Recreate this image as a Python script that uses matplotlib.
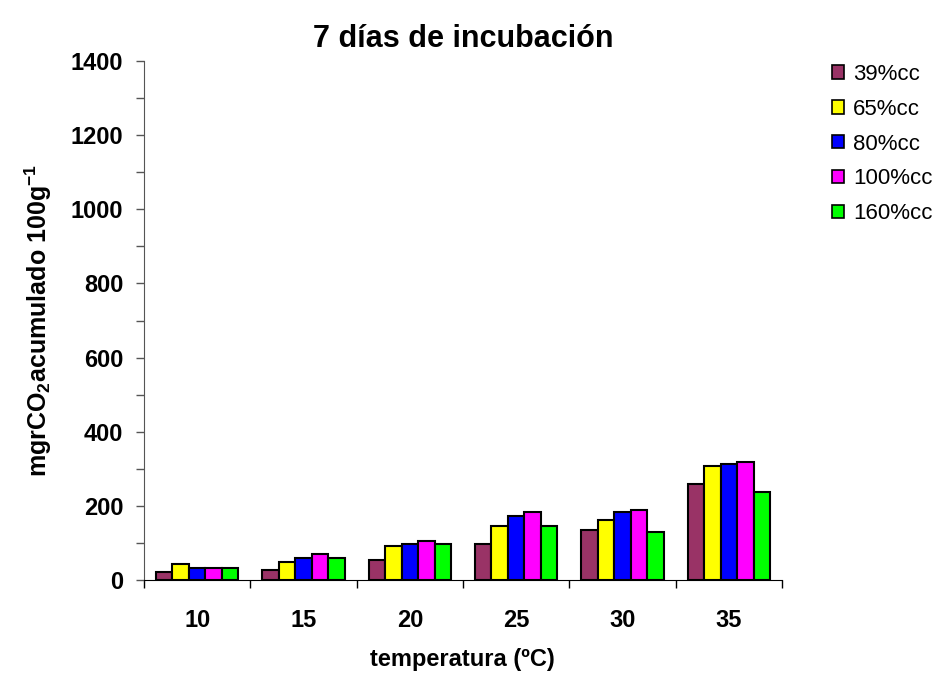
import numpy as np
import matplotlib.pyplot as plt
from matplotlib.patches import Patch

plt.rcParams['font.family'] = ['Liberation Sans', 'DejaVu Sans']
plt.rcParams['mathtext.fontset'] = 'custom'
plt.rcParams['mathtext.rm'] = 'Liberation Sans'
plt.rcParams['mathtext.bf'] = 'Liberation Sans:bold'
plt.rcParams['mathtext.default'] = 'bf'

temperaturas = ['10', '15', '20', '25', '30', '35']
humedades = ['39%cc', '65%cc', '80%cc', '100%cc', '160%cc']
colores = ['#993366', '#FFFF00', '#0000FF', '#FF00FF', '#00FF00']

# mg CO2 acumulado a los 7 dias, una lista por humedad
co2_39 = [22, 28, 54, 97, 135, 258]
co2_65 = [43, 48, 92, 146, 162, 308]
co2_80 = [32, 58, 97, 172, 183, 313]
co2_100 = [32, 70, 106, 183, 188, 318]
co2_160 = [33, 58, 96, 146, 129, 237]
series = [co2_39, co2_65, co2_80, co2_100, co2_160]

fig = plt.figure(figsize=(9.35, 6.74), dpi=100)
ax = fig.add_axes([144 / 935, 94 / 674, 638 / 935, 519 / 674])

x = np.arange(len(temperaturas))
ancho = 0.155
for i, (vals, col) in enumerate(zip(series, colores)):
    ax.bar(x + (i - 2) * ancho, vals, width=ancho, color=col,
           edgecolor='black', linewidth=1.5, zorder=3)

ax.set_xlim(-0.5, len(temperaturas) - 0.5)
ax.set_ylim(0, 1400)
ax.set_yticks(np.arange(0, 1401, 200))
ax.set_yticks(np.arange(100, 1400, 200), minor=True)
ax.set_xticks(np.arange(-0.5, len(temperaturas)), minor=False)
ax.set_xticklabels([])
ax.set_xticks(x, minor=True)
ax.set_xticklabels(temperaturas, minor=True)

ax.tick_params(axis='y', which='both', direction='out', length=6, width=1,
               color='#555555', labelsize=17, pad=9)
ax.tick_params(axis='x', which='major', direction='out', length=6, width=1,
               color='black')
ax.tick_params(axis='x', which='minor', length=0, labelsize=17, pad=21)
for lab in ax.get_yticklabels() + ax.get_xticklabels(minor=True):
    lab.set_fontweight('bold')

for s in ['top', 'right']:
    ax.spines[s].set_visible(False)
ax.spines['left'].set_color('#555555')
ax.spines['bottom'].set_color('black')

ax.set_title('7 días de incubación', fontsize=22, fontweight='bold', pad=10)
ax.set_ylabel('mgrCO$_2$acumulado 100g$^{-1}$', fontsize=18,
              fontweight='bold', labelpad=12)
# etiqueta del eje x colocada a mano, pegada al borde inferior
fig.text(0.495, 3 / 674, 'temperatura (ºC)', fontsize=17, fontweight='bold',
         ha='center', va='bottom')

handles = [Patch(facecolor=c, edgecolor='black', linewidth=1.2) for c in colores]
fig.legend(handles, humedades, loc='upper left', bbox_to_anchor=(832 / 935, 1 - 64 / 674),
           frameon=False, fontsize=16, handlelength=0.55, handleheight=0.55,
           handletextpad=0.4, labelspacing=0.62, borderaxespad=0, borderpad=0)

fig.savefig('out.png', dpi=100)
